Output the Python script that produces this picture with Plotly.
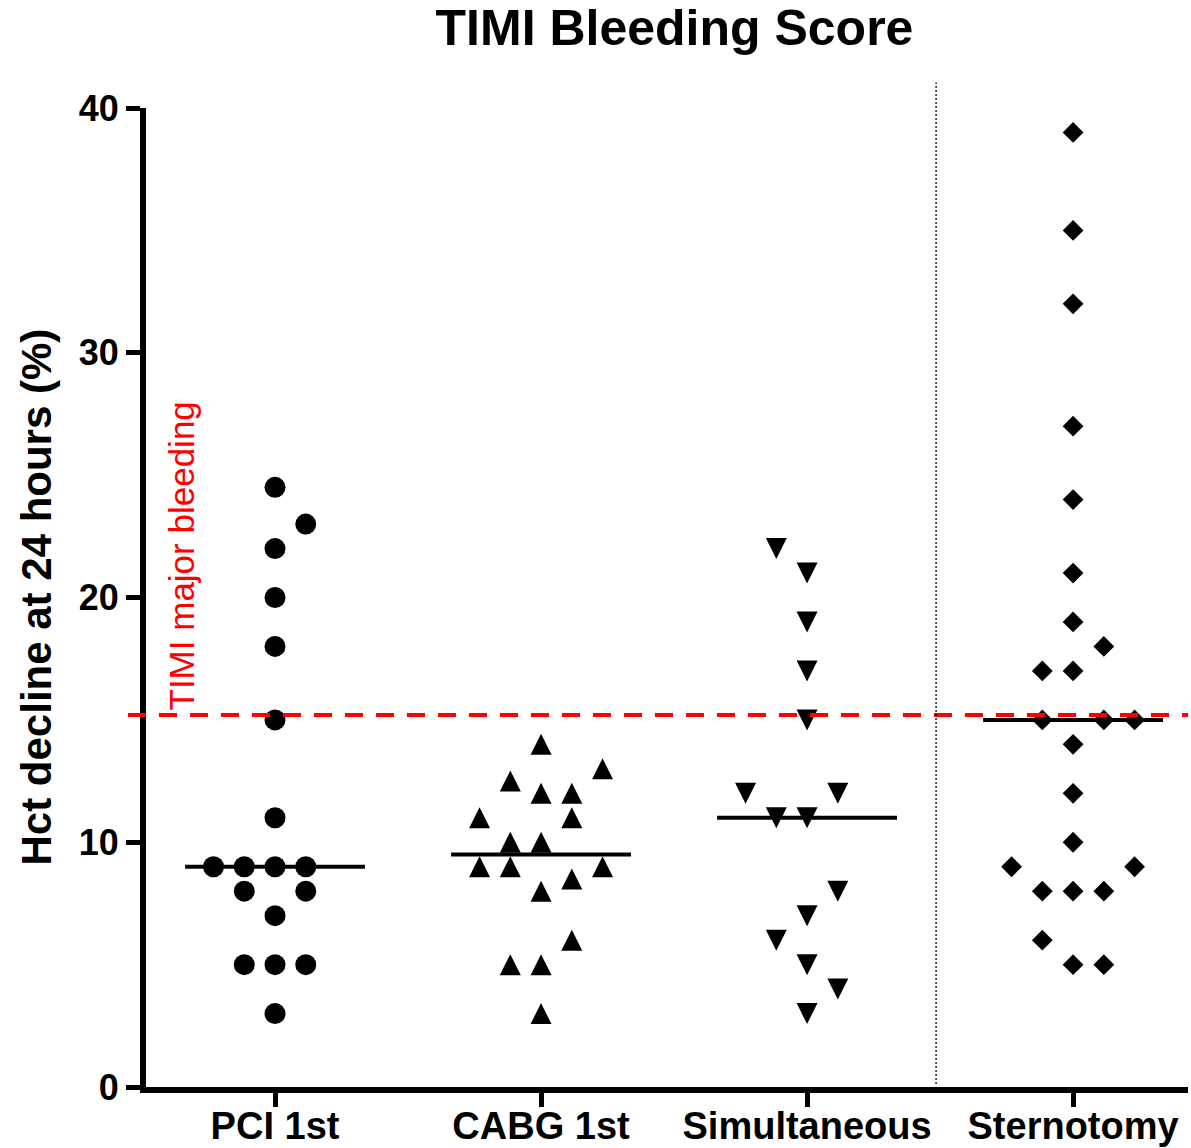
import numpy as np
import plotly.graph_objects as go

# Hct decline at 24 hours (%) per surgical strategy
categories = ["PCI 1st", "CABG 1st", "Simultaneous", "Sternotomy"]

pci_values = [24.5, 23, 22, 20, 18, 15, 11, 9, 9, 9, 9, 8, 8, 7, 5, 5, 5, 3]
cabg_values = [14, 13, 12.5, 12, 12, 11, 11, 10, 10, 9, 9, 9, 8.5, 8, 6, 5, 5, 3]
simul_values = [22, 21, 19, 17, 15, 12, 12, 11, 11, 8, 7, 6, 5, 4, 3]
stern_values = [39, 35, 32, 27, 24, 21, 19, 18, 17, 17, 15, 15, 15, 14, 12, 10,
                9, 9, 8, 8, 8, 6, 5, 5]

# column slot of each dot inside its scatter column (dot-plot layout)
pci_slots = [0, 1, 0, 0, 0, 0, 0, -2, -1, 0, 1, -1, 1, 0, -1, 0, 1, 0]
cabg_slots = [0, 2, -1, 0, 1, -2, 1, -1, 0, -2, -1, 2, 1, 0, 1, -1, 0, 0]
simul_slots = [-1, 0, 0, 0, 0, -2, 1, -1, 0, 1, 0, -1, 0, 1, 0]
stern_slots = [0, 0, 0, 0, 0, 0, 0, 1, -1, 0, -1, 1, 2, 0, 0, 0, -2, 2, -1, 0, 1,
               -1, 0, 1]

timi_major_threshold = 15.2
y_ticks = [0, 10, 20, 30, 40]

FONT = "Liberation Sans, Arial, sans-serif"
SLOT_STEP = 0.1156      # horizontal spacing between dot columns (x units)
MEDIAN_HALF = 0.338     # half-length of the median bar
X_RANGE = [0.515, 4.432]

groups = [
    (pci_values, pci_slots, dict(symbol="circle", size=21)),
    (cabg_values, cabg_slots, dict(symbol="arrow-down", size=21, angle=180, standoff=10.5)),
    (simul_values, simul_slots, dict(symbol="arrow-down", size=21, angle=0, standoff=10.5)),
    (stern_values, stern_slots, dict(symbol="diamond", size=16)),
]

fig = go.Figure()

for i, (vals, slots, mk) in enumerate(groups):
    pos = i + 1
    xs = [pos + s * SLOT_STEP for s in slots]
    fig.add_trace(go.Scatter(
        x=xs, y=vals, mode="markers",
        marker=dict(color="black", line=dict(width=0), **mk),
        showlegend=False, hoverinfo="y",
    ))
    med = float(np.median(vals))
    fig.add_trace(go.Scatter(
        x=[pos - MEDIAN_HALF, pos + MEDIAN_HALF], y=[med, med], mode="lines",
        line=dict(color="black", width=4), showlegend=False, hoverinfo="skip",
    ))

span = X_RANGE[1] - X_RANGE[0]
sep_paper = (3.485 - X_RANGE[0]) / span

shapes = [
    # TIMI major bleeding threshold
    dict(type="line", xref="paper", yref="y", x0=-0.0173, x1=1.0,
         y0=timi_major_threshold, y1=timi_major_threshold,
         line=dict(color="#ff0000", width=4, dash="18px,13px"), layer="above"),
    # separator before the sternotomy group
    dict(type="line", xref="paper", yref="paper", x0=sep_paper, x1=sep_paper,
         y0=0.003, y1=1.026, line=dict(color="black", width=1.3, dash="2px,2px")),
]

annotations = [
    dict(text="TIMI major bleeding", textangle=-90, xref="paper", yref="y",
         x=(181 - 146) / 1042, y=timi_major_threshold, xanchor="center",
         yanchor="bottom", yshift=2, showarrow=False,
         font=dict(family=FONT, size=35, color="#ff0000")),
    dict(text="Hct decline at 24 hours (%)", textangle=-90, xref="paper",
         yref="paper", x=(36 - 146) / 1042, y=0.5, xanchor="center",
         yanchor="middle", showarrow=False,
         font=dict(family=FONT, size=42, color="black", weight=700)),
]

fig.update_layout(
    width=1191, height=1148,
    margin=dict(l=146, r=3, t=108, b=61, pad=0),
    paper_bgcolor="white", plot_bgcolor="white",
    title=dict(text="TIMI Bleeding Score", x=(674.5 / 1191), xanchor="center",
               y=1 - 27.5 / 1148, yanchor="middle",
               font=dict(family=FONT, size=50, color="black", weight=700)),
    shapes=shapes, annotations=annotations,
    xaxis=dict(range=X_RANGE, tickvals=[1, 2, 3, 4], ticktext=categories,
               automargin=False,
               showgrid=False, zeroline=False, showline=True, linewidth=6,
               linecolor="black", ticks="outside", ticklen=14, tickwidth=5,
               tickcolor="black", ticklabelstandoff=-14,
               tickfont=dict(family=FONT, size=38, color="black", weight=700)),
    yaxis=dict(range=[0, 40], tickvals=y_ticks, showgrid=False, zeroline=False,
               automargin=False,
               showline=True, linewidth=6, linecolor="black", ticks="outside",
               ticklen=14, tickwidth=5, tickcolor="black",
               tickfont=dict(family=FONT, size=36, color="black", weight=700)),
)

fig.write_html("out.html")
